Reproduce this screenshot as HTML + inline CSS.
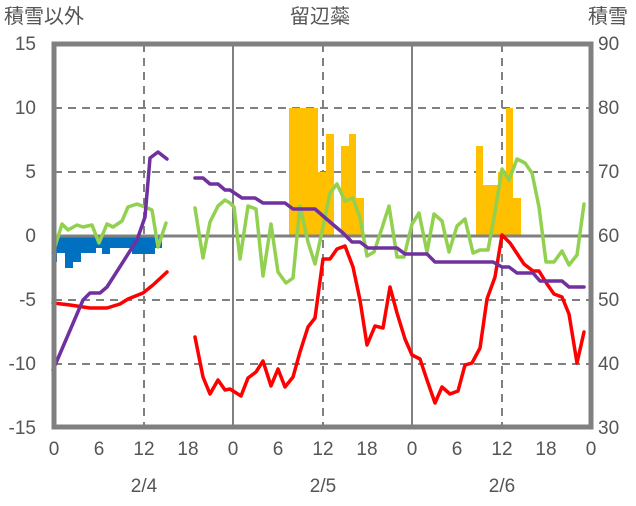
<!DOCTYPE html>
<html><head><meta charset="utf-8"><style>
body{margin:0;background:#fff}
text{font-family:"Liberation Sans","Noto Sans CJK JP",sans-serif;fill:#555;font-size:19px}
.t{font-size:20px}
</style></head><body>
<svg width="636" height="501" xmlns="http://www.w3.org/2000/svg">
<g stroke="#808080" stroke-width="2" stroke-dasharray="8,6" fill="none">
<line x1="54" y1="108" x2="591" y2="108"/><line x1="54" y1="172" x2="591" y2="172"/>
<line x1="54" y1="300" x2="591" y2="300"/><line x1="54" y1="364" x2="591" y2="364"/>
<line x1="144" y1="44" x2="144" y2="427"/><line x1="323" y1="44" x2="323" y2="427"/><line x1="502" y1="44" x2="502" y2="427"/>
</g>
<g stroke="#808080" stroke-width="2"><line x1="233" y1="44" x2="233" y2="427"/><line x1="412" y1="44" x2="412" y2="427"/></g>
<g fill="#FFC000">
<rect x="289" y="108" width="29" height="128"/><rect x="318" y="172" width="8" height="64"/><rect x="326" y="134" width="8" height="102"/>
<rect x="341" y="146" width="8" height="90"/><rect x="349" y="134" width="7" height="102"/><rect x="356" y="198" width="8" height="38"/>
<rect x="476" y="146" width="7" height="90"/><rect x="483" y="185" width="15" height="51"/><rect x="498" y="172" width="8" height="64"/>
<rect x="506" y="108" width="7" height="128"/><rect x="513" y="198" width="8" height="38"/>
</g>
<g fill="#0070C0">
<rect x="54" y="236" width="108" height="12"/>
<rect x="54" y="236" width="3" height="26"/><rect x="57" y="236" width="8" height="17"/><rect x="65" y="236" width="8" height="32"/>
<rect x="73" y="236" width="8" height="26"/><rect x="81" y="236" width="15" height="17"/><rect x="102" y="236" width="8" height="18"/>
<rect x="132" y="236" width="23" height="18"/>
</g>
<line x1="54" y1="236" x2="591" y2="236" stroke="#808080" stroke-width="3"/>
<g fill="none" stroke-width="3.5" stroke-linejoin="round" stroke-linecap="round">
<polyline stroke="#92D050" points="53,253 62,224 68,230 77,225 83,227 92,225 99,243 107,224 113,227 122,221 128,207 137,204 145,207 152,210 158,247 166,223"/>
<polyline stroke="#92D050" points="195,208 203,258 210,222 218,206 225,200 230,203 234,207 240,259 248,206 256,209 263,276 271,224 278,272 286,283 293,278 300,206 308,242 315,264 323,227 330,193 337,184 345,201 353,198 360,218 367,256 374,252 382,228 389,206 397,257 404,257 412,224 419,213 427,252 434,214 442,221 449,252 457,226 465,219 473,253 480,250 488,250 494,218 502,169 509,180 517,159 525,163 532,173 539,207 546,262 554,262 562,251 569,265 577,255 584,204"/>
<polyline stroke="#FF0000" points="53,303 70,305 90,308 107,308 120,304 128,299 143,293 153,285 167,272"/>
<polyline stroke="#FF0000" points="195,337 203,377 210,394 218,380 225,390 230,389 241,396 248,378 256,372 263,361 271,386 278,369 285,387 293,377 300,352 308,327 315,318 323,259 330,259 337,249 345,246 353,267 360,300 367,345 375,326 383,328 390,287 397,313 405,339 412,355 420,359 427,380 435,403 442,387 450,394 458,391 465,365 472,363 480,348 487,299 495,277 502,235 510,243 524,264 533,271 539,271 547,284 554,294 562,297 569,314 577,363 584,332"/>
<polyline stroke="#7030A0" points="53,370 83,300 90,293 100,293 107,287 137,240 145,217 150,158 158,152 167,159"/>
<polyline stroke="#7030A0" points="195,178 203,178 210,184 218,184 225,190 230,190 242,198 255,198 263,203 285,203 293,209 315,209 330,222 343,233 352,242 360,242 368,248 397,248 405,254 427,254 435,262 493,262 502,267 509,267 517,273 533,273 540,281 562,281 569,287 584,287"/>
</g>
<rect x="54" y="44" width="537" height="383" fill="none" stroke="#808080" stroke-width="5"/>
<text class="t" x="4" y="23">積雪以外</text><text class="t" x="320" y="23" text-anchor="middle">留辺蘂</text><text class="t" x="588" y="23">積雪</text>
<g text-anchor="end">
<text x="36" y="50">15</text><text x="36" y="114">10</text><text x="36" y="178">5</text><text x="36" y="242">0</text>
<text x="36" y="306">-5</text><text x="36" y="370">-10</text><text x="36" y="434">-15</text>
</g>
<g>
<text x="598" y="50">90</text><text x="598" y="114">80</text><text x="598" y="178">70</text><text x="598" y="242">60</text>
<text x="598" y="306">50</text><text x="598" y="370">40</text><text x="598" y="434">30</text>
</g>
<g text-anchor="middle">
<text x="54" y="455">0</text><text x="99" y="455">6</text><text x="144" y="455">12</text><text x="188" y="455">18</text>
<text x="233" y="455">0</text><text x="278" y="455">6</text><text x="323" y="455">12</text><text x="367" y="455">18</text>
<text x="412" y="455">0</text><text x="457" y="455">6</text><text x="502" y="455">12</text><text x="546" y="455">18</text>
<text x="591" y="455">0</text>
<text x="144" y="492">2/4</text><text x="323" y="492">2/5</text><text x="502" y="492">2/6</text>
</g>
</svg>
</body></html>
